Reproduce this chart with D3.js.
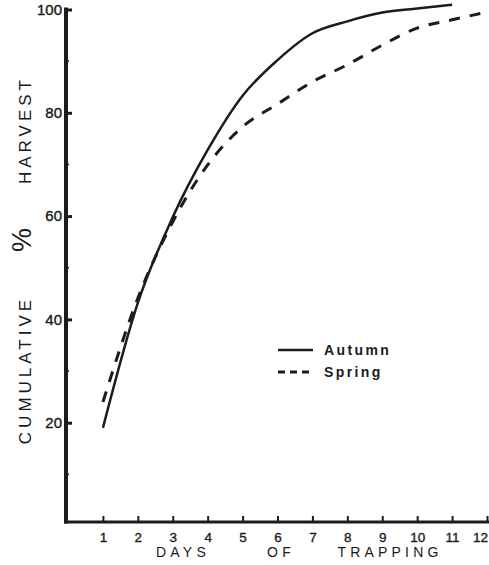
<!DOCTYPE html>
<html>
<head>
<meta charset="utf-8">
<script src="https://cdn.jsdelivr.net/npm/d3@7"></script>
<style>
  html, body { margin: 0; padding: 0; background: #ffffff; }
  svg { display: block; }
  text { font-family: "Liberation Sans", Arial, sans-serif; fill: #1a1a1a; }
</style>
</head>
<body>
<svg id="chart" width="489" height="565"></svg>
<script>
// ---- data ----
const days = [1, 2, 3, 4, 5, 6, 7, 8, 9, 10, 11, 12];
const autumnDays = [1, 2, 3, 4, 5, 6, 7, 8, 9, 10, 11];
const autumnValues = [19, 43.2, 59.8, 72.8, 83.3, 90.2, 95.4, 97.7, 99.4, 100.2, 100.9];
const springDays = [1, 2, 3, 4, 5, 6, 7, 8, 9, 10, 11, 12];
const springValues = [24, 44.1, 58.9, 69.9, 77.3, 81.7, 86, 89.3, 93.1, 96.4, 98, 99.5];
const yMajorTicks = [20, 40, 60, 80, 100];
const yMinorTicks = [10, 30, 50, 70, 90];
const xTitleWords = ["DAYS", "OF", "TRAPPING"];
const yTitleParts = ["CUMULATIVE", "%", "HARVEST"];
const seriesNames = ["Autumn", "Spring"];

const svg = d3.select("#chart");
const ink = "#1c1c1c";

const x = d3.scaleLinear().domain([0, 12]).range([68, 487]);
const y = d3.scaleLinear().domain([0, 100]).range([526, 9.5]);

const axisX = 66;     // y-axis line position
const axisY = 522;    // x-axis line position

// ---- x axis ----
const gx = svg.append("g").attr("transform", `translate(0,${axisY})`);
gx.call(d3.axisBottom(x).tickValues(days).tickSize(0).tickPadding(10).tickFormat(d3.format("d")));
gx.select(".domain").remove();
gx.selectAll(".tick text")
  .attr("font-size", 13.5).attr("fill", ink).attr("stroke", ink).attr("stroke-width", 0.35)
  .attr("font-family", "Liberation Sans, Arial, sans-serif")
  .attr("dx", d => d === 12 ? -7 : 0);
gx.selectAll(".tick").append("line")
  .attr("y1", 0).attr("y2", -6).attr("stroke", ink).attr("stroke-width", 2);

// ---- y axis ----
const gy = svg.append("g").attr("transform", `translate(${axisX},0)`);
gy.call(d3.axisLeft(y).tickValues(yMajorTicks).tickSize(0).tickPadding(4).tickFormat(d3.format("d")));
gy.select(".domain").remove();
gy.selectAll(".tick text")
  .attr("font-size", 15).attr("fill", ink).attr("stroke", ink).attr("stroke-width", 0.4)
  .attr("font-family", "Liberation Sans, Arial, sans-serif");
gy.selectAll(".tick").append("line")
  .attr("x1", 0).attr("x2", 6).attr("stroke", ink).attr("stroke-width", 3);
gy.selectAll(".minor").data(yMinorTicks).enter().append("line")
  .attr("class", "minor")
  .attr("x1", 0).attr("x2", 3)
  .attr("y1", d => y(d)).attr("y2", d => y(d))
  .attr("stroke", ink).attr("stroke-width", 1.5);

// axis lines
svg.append("line").attr("x1", axisX).attr("x2", axisX).attr("y1", y(100) - 2).attr("y2", axisY + 1.5)
  .attr("stroke", ink).attr("stroke-width", 4);
svg.append("line").attr("x1", axisX - 2).attr("x2", 489).attr("y1", axisY).attr("y2", axisY)
  .attr("stroke", ink).attr("stroke-width", 3);

// ---- lines ----
const line = d3.line().x(d => x(d[0])).y(d => y(d[1])).curve(d3.curveMonotoneX);
const autumn = autumnDays.map((d, i) => [d, autumnValues[i]]);
const spring = springDays.map((d, i) => [d, springValues[i]]);

svg.append("path").datum(autumn).attr("d", line)
  .attr("fill", "none").attr("stroke", ink).attr("stroke-width", 2.5)
  .attr("stroke-linejoin", "round");
svg.append("path").datum(spring).attr("d", line)
  .attr("fill", "none").attr("stroke", ink).attr("stroke-width", 3)
  .attr("stroke-dasharray", "11,10");

// ---- legend ----
const legend = svg.append("g");
const legRows = [{ name: seriesNames[0], dash: null, y: 350 }, { name: seriesNames[1], dash: "7,5", y: 372 }];
legRows.forEach(r => {
  legend.append("line").attr("x1", 278).attr("x2", 313).attr("y1", r.y).attr("y2", r.y)
    .attr("stroke", ink).attr("stroke-width", r.dash ? 3 : 2.5)
    .attr("stroke-dasharray", r.dash);
  legend.append("text").attr("x", 324).attr("y", r.y + 5)
    .attr("font-size", 14).attr("font-weight", "bold").attr("letter-spacing", 2.4)
    .text(r.name);
});

// ---- x title ----
const xTitlePos = [183, 281, 390];
xTitleWords.forEach((w, i) => {
  svg.append("text").attr("x", xTitlePos[i]).attr("y", 557)
    .attr("text-anchor", "middle").attr("font-size", 14).attr("letter-spacing", 4.2)
    .text(w);
});

// ---- y title ----
const yTitleCenters = [370, 240, 130];
const yTitleSizes = [17, 27, 17];
const yTitleSpacing = [4, 0, 4];
const yTitleX = [31, 31, 31];
yTitleParts.forEach((w, i) => {
  svg.append("text")
    .attr("transform", `translate(${yTitleX[i]},${yTitleCenters[i]}) rotate(-90)`)
    .attr("text-anchor", "middle")
    .attr("font-size", yTitleSizes[i])
    .attr("letter-spacing", yTitleSpacing[i])
    .text(w);
});
</script>
</body>
</html>
